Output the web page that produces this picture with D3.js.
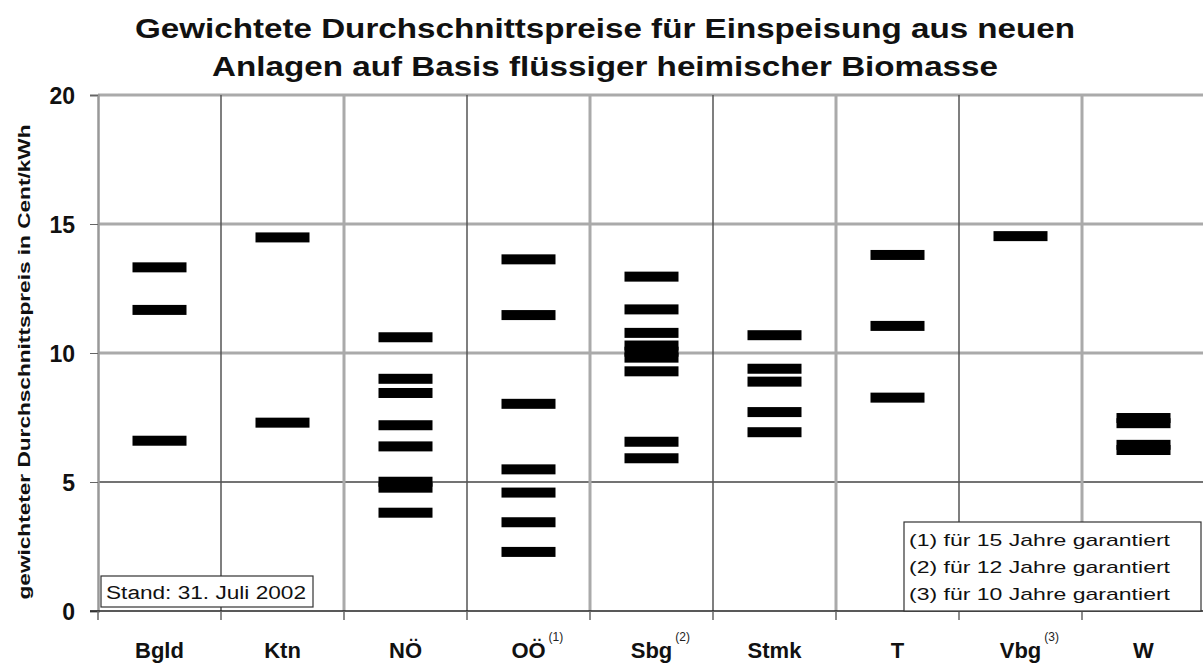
<!DOCTYPE html>
<html><head><meta charset="utf-8">
<script src="https://cdn.jsdelivr.net/npm/d3@7"></script>
<style>body{margin:0;background:#fff}svg{display:block}text{font-family:"Liberation Sans",Arial,sans-serif}</style>
</head><body><svg id="c" width="1203" height="664"></svg>
<script>
const categories = ["Bgld","Ktn","NÖ","OÖ","Sbg","Stmk","T","Vbg","W"];
const superscripts = ["","","","(1)","(2)","","","(3)",""];
const Bgld = [13.32, 11.67, 6.6];
const Ktn = [14.48, 7.3];
const NOe = [10.61, 9.0, 8.45, 7.2, 6.38, 5.01, 4.78, 3.81];
const OOe = [13.63, 11.47, 8.03, 5.49, 4.59, 3.44, 2.29];
const Sbg = [12.96, 11.69, 10.78, 10.29, 10.05, 9.82, 9.29, 6.56, 5.92];
const Stmk = [10.69, 9.39, 8.89, 7.71, 6.93];
const T = [13.8, 11.05, 8.27];
const Vbg = [14.53];
const W = [7.48, 7.28, 6.44, 6.24];
const seriesValues = [Bgld, Ktn, NOe, OOe, Sbg, Stmk, T, Vbg, W];
const yTicks = [0, 5, 10, 15, 20];
const titleLines = ["Gewichtete Durchschnittspreise für Einspeisung aus neuen", "Anlagen auf Basis flüssiger heimischer Biomasse"];
const yLabel = "gewichteter Durchschnittspreis in Cent/kWh";
const standText = "Stand: 31. Juli 2002";
const legendLines = ["(1) für 15 Jahre garantiert", "(2) für 12 Jahre garantiert", "(3) für 10 Jahre garantiert"];

const svg = d3.select("#c");
const m = {l: 98, r: 1205, t: 95, b: 611};
const x = d3.scaleBand().domain(categories).range([m.l, m.r]).padding(0);
const y = d3.scaleLinear().domain([0, 20]).range([m.b, m.t]);

// horizontal grid
const hStyle = {20: ["#aaa", 3], 15: ["#aaa", 3], 10: ["#aaa", 3], 5: ["#444", 1.5]};
yTicks.filter(d => d > 0).forEach(t => {
  svg.append("line").attr("x1", m.l).attr("x2", m.r).attr("y1", y(t)).attr("y2", y(t))
    .attr("stroke", hStyle[t][0]).attr("stroke-width", hStyle[t][1]);
});
// vertical grid
categories.forEach((c, i) => {
  if (i === 0) return;
  const dark = i % 2 === 1;
  svg.append("line").attr("x1", x(c)).attr("x2", x(c)).attr("y1", y(20)).attr("y2", y(0))
    .attr("stroke", dark ? "#555" : "#aaa").attr("stroke-width", dark ? 1.5 : 3);
});

// y axis
const yAxis = svg.append("g").attr("transform", `translate(${m.l},0)`)
  .call(d3.axisLeft(y).tickValues(yTicks).tickSize(8).tickPadding(15));
yAxis.select(".domain").attr("stroke", "#999").attr("stroke-width", 2.5);
yAxis.selectAll(".tick line").attr("stroke", "#666");
yAxis.selectAll("text").attr("font-size", 23).attr("font-weight", "bold").attr("fill", "#111")
  .attr("font-family", "Liberation Sans, Arial, sans-serif").attr("dy", "0.36em");

// x axis
const xAxis = svg.append("g").attr("transform", `translate(0,${m.b})`)
  .call(d3.axisBottom(x).tickSize(0).tickFormat(""));
xAxis.select(".domain").attr("stroke", "#222").attr("stroke-width", 1.5).attr("d", `M${m.l - 8},0H${m.r}`);
categories.forEach((c, i) => {
  svg.append("line").attr("x1", x(c)).attr("x2", x(c)).attr("y1", m.b).attr("y2", m.b + 9)
    .attr("stroke", "#666").attr("stroke-width", 1.5);
});
const lab = svg.append("g");
categories.forEach((c, i) => {
  const cx = x(c) + x.bandwidth() / 2;
  const t = lab.append("text").attr("x", cx).attr("y", 658).attr("text-anchor", "middle")
    .attr("font-size", 22).attr("font-weight", "bold").attr("fill", "#111").text(c);
  if (superscripts[i]) {
    const w = t.node().getComputedTextLength();
    lab.append("text").attr("x", cx + w / 2 + 3).attr("y", 641).attr("font-size", 12).attr("fill", "#222").text(superscripts[i]);
  }
});

// dashes
const dashW = 54, dashH = 10;
categories.forEach((c, i) => {
  const cx = x(c) + x.bandwidth() / 2;
  svg.append("g").selectAll("rect").data(seriesValues[i]).join("rect")
    .attr("x", cx - dashW / 2).attr("width", dashW)
    .attr("y", d => y(d) - dashH / 2).attr("height", dashH)
    .attr("fill", "#000");
});

// title
const titleLen = [940, 786];
titleLines.forEach((t, i) => {
  svg.append("text").attr("x", 605).attr("y", 38 + i * 38).attr("text-anchor", "middle")
    .attr("font-size", 28).attr("font-weight", "bold").attr("fill", "#111")
    .attr("textLength", titleLen[i]).attr("lengthAdjust", "spacingAndGlyphs").text(t);
});
// y label
svg.append("text").attr("transform", `translate(30,362) rotate(-90)`)
  .attr("text-anchor", "middle").attr("font-size", 16).attr("font-weight", "bold").attr("fill", "#111")
  .attr("textLength", 475).attr("lengthAdjust", "spacingAndGlyphs").text(yLabel);

// stand box
svg.append("rect").attr("x", 101).attr("y", 576).attr("width", 212).attr("height", 31)
  .attr("fill", "#fff").attr("stroke", "#333").attr("stroke-width", 1.2);
svg.append("text").attr("x", 106).attr("y", 599).attr("font-size", 18).attr("fill", "#111")
  .attr("textLength", 200).attr("lengthAdjust", "spacingAndGlyphs").text(standText);

// legend
svg.append("rect").attr("x", 904).attr("y", 522).attr("width", 297).attr("height", 89)
  .attr("fill", "#fff").attr("stroke", "#333").attr("stroke-width", 1.2);
legendLines.forEach((t, i) => {
  svg.append("text").attr("x", 909).attr("y", 546 + i * 27).attr("font-size", 17).attr("fill", "#111")
    .attr("textLength", 261).attr("lengthAdjust", "spacingAndGlyphs").text(t);
});
</script></body></html>
